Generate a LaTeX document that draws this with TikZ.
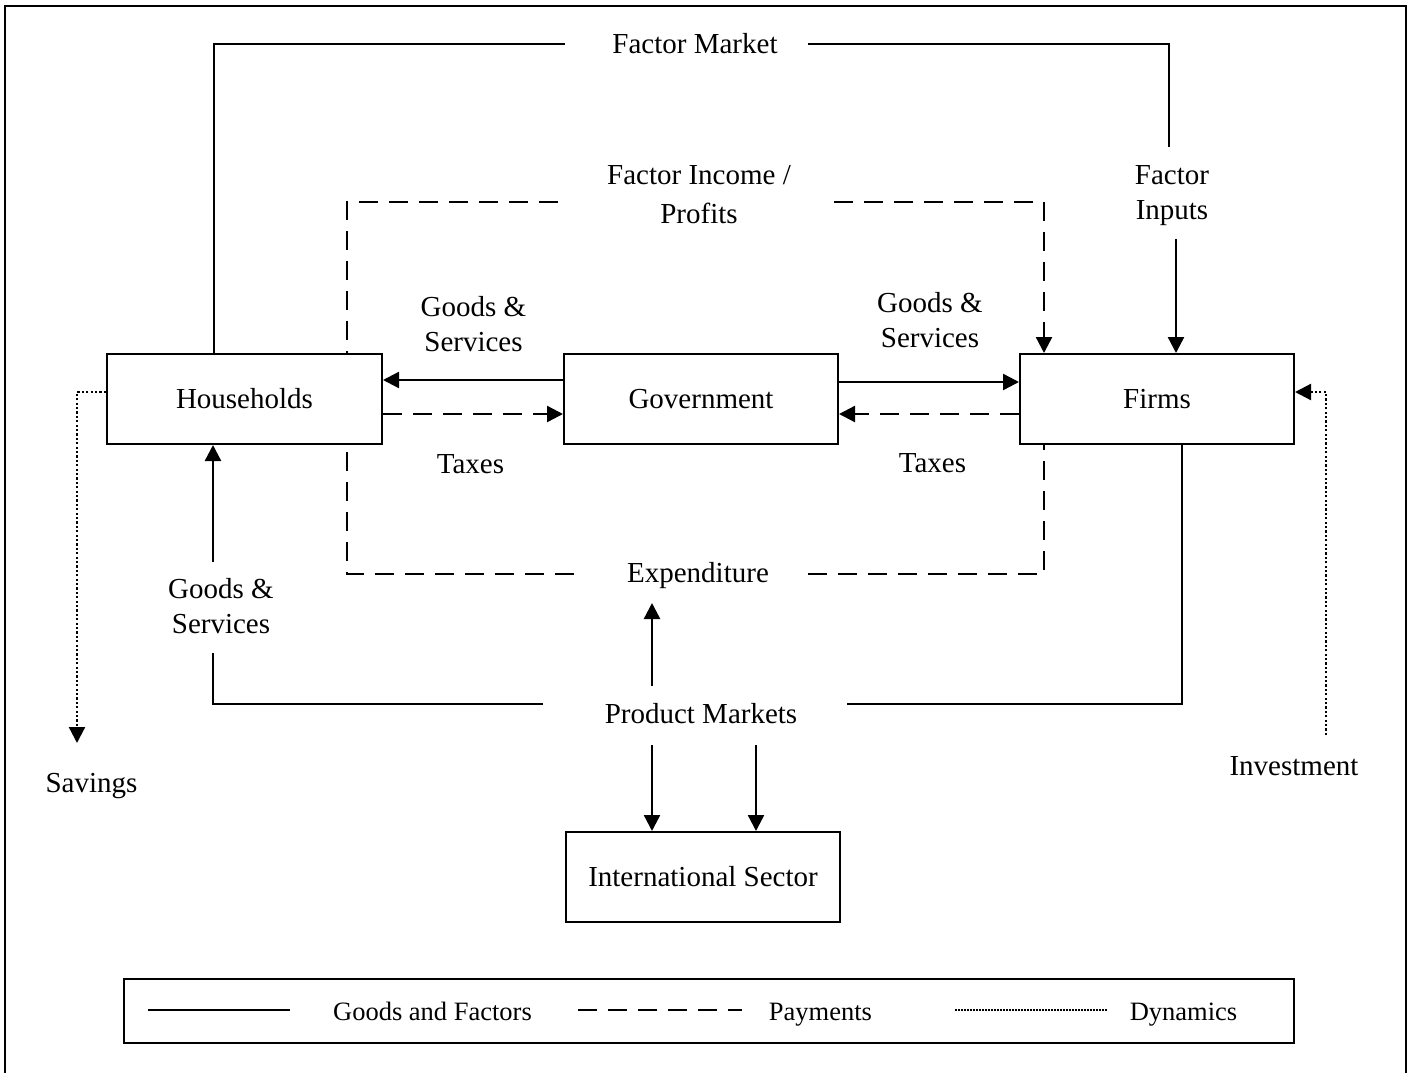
\documentclass[tikz,border=0pt]{standalone}
\usepackage{fontspec}
\setmainfont{Liberation Serif}
\usetikzlibrary{arrows.meta,calc}
\newcommand\mainfs{\fontsize{29}{35}\selectfont}
\newcommand\legfs{\fontsize{26.5}{32}\selectfont}
\begin{document}
\begin{tikzpicture}[x=1pt,y=-1pt,
  box/.style={draw, line width=2pt, minimum width=274pt, minimum height=90pt, inner sep=0pt, font=\mainfs},
  lbl/.style={inner sep=0pt, font=\mainfs, anchor=base},
  lbl2/.style={inner sep=0pt, font=\mainfs, align=center, anchor=north},
  leglbl/.style={inner sep=0pt, font=\legfs, anchor=base},
  flow/.style={line width=2.4pt},
  pay/.style={line width=2.4pt, dash pattern=on 19pt off 11pt},
  dyn/.style={line width=2.2pt, dash pattern=on 2.2pt off 2.2pt},
  tip/.style={-{Triangle[length=16pt,width=16pt]}}]
\useasboundingbox (0,0) rectangle (1413,1073);
\clip (0,0) rectangle (1413,1073);
% outer frame
\draw[line width=2pt] (5,1090) |- (1406,6) -- (1406,1090);

% boxes
\node[box, minimum width=275pt] (hh) at (244.5,399) {Households};
\node[box] (gov) at (701,399) {Government};
\node[box] (firms) at (1157,399) {Firms};
\node[box] (intl) at (703,877) {International Sector};

% labels
\node[lbl] (fm) at (695,53) {Factor Market};
\node[lbl2] (fi) at (1172,165.5) {Factor\\Inputs};
\node[lbl2] (fip) at (699,165.5) {Factor Income /\\[4pt]Profits};
\node[lbl2] (gsl) at (473.5,296) {Goods \&\\Services};
\node[lbl2] (gsr) at (930,292) {Goods \&\\Services};
\node[lbl] (taxl) at (470.5,473) {Taxes};
\node[lbl] (taxr) at (932.5,472) {Taxes};
\node[lbl2] (gsb) at (221,578) {Goods \&\\Services};
\node[lbl] (exp) at (698,582) {Expenditure};
\node[lbl] (pm) at (701,723) {Product Markets};
\node[lbl] (sav) at (91.5,792) {Savings};
\node[lbl] (inv) at (1294,775) {Investment};

% free ends
\coordinate (fmL) at (565,44);
\coordinate (fmR) at (808,44);
\coordinate (fmD) at (1169,147);
\coordinate (fiB) at (1176,239);
\coordinate (fipL) at (558,202);
\coordinate (fipR) at (834,202);
\coordinate (expL) at (574,574);
\coordinate (expR) at (808,574);
\coordinate (pmL) at (543,704);
\coordinate (pmR) at (847,704);
\coordinate (gsT) at (213,653);
\coordinate (gsB) at (213,562);
\coordinate (expA) at (652,686);
\coordinate (expT) at (652,603);
\coordinate (pmA) at (652,745);
\coordinate (pmB) at (756,745);
\coordinate (savE) at (77,743);
\coordinate (invS) at (1326,735);
\coordinate (rA) at (0,380);
\coordinate (rB) at (0,382);
\coordinate (rD) at (0,392);
\coordinate (rP) at (0,414);

% factor market loop
\draw[flow] (fmL) -| ([xshift=-30.5pt]hh.north);
\draw[flow] (fmR) -| (fmD);
\draw[flow,tip] (fiB) -- ([xshift=19pt]firms.north);
% factor income loop
\draw[pay] (fipL) -| ([xshift=102.5pt]hh.north);
\draw[pay,tip] (fipR) -| ([xshift=-113pt]firms.north);
% expenditure loop
\draw[pay] (expL) -| ([xshift=102.5pt]hh.south);
\draw[pay] (expR) -| ([xshift=-113pt]firms.south);
% product markets
\draw[flow] (pmL) -| (gsT);
\draw[flow,tip] (gsB) -- ([xshift=-31.5pt]hh.south);
\draw[flow] (pmR) -| ([xshift=25pt]firms.south);
\draw[flow,tip] (expA) -- (expT);
\draw[flow,tip] (pmA) -- ([xshift=-51pt]intl.north);
\draw[flow,tip] (pmB) -- ([xshift=53pt]intl.north);
% government flows
\draw[flow,tip] (gov.west |- rA) -- (hh.east |- rA);
\draw[pay,tip] (hh.east |- rP) -- (gov.west |- rP);
\draw[flow,tip] (gov.east |- rB) -- (firms.west |- rB);
\draw[pay,tip] (firms.west |- rP) -- (gov.east |- rP);
% dynamics
\draw[dyn,tip] (hh.west |- rD) -| (savE);
\draw[dyn,tip] (invS) |- (firms.east |- rD);

% legend
\node[draw, line width=2pt, minimum width=1170pt, minimum height=64pt, inner sep=0pt] (leg) at (709,1011) {};
\draw[flow] (148,1010) -- (290,1010);
\draw[line width=2.4pt, dash pattern=on 19pt off 11pt] (578,1010) -- (742,1010);
\draw[line width=1.8pt, dash pattern=on 1.5pt off 1.5pt] (955,1010) -- (1108,1010);
\node[leglbl] (lg1) at (432.5,1020) {Goods and Factors};
\node[leglbl] (lg2) at (820.5,1020) {Payments};
\node[leglbl] (lg3) at (1183.5,1020) {Dynamics};
\end{tikzpicture}
\end{document}
